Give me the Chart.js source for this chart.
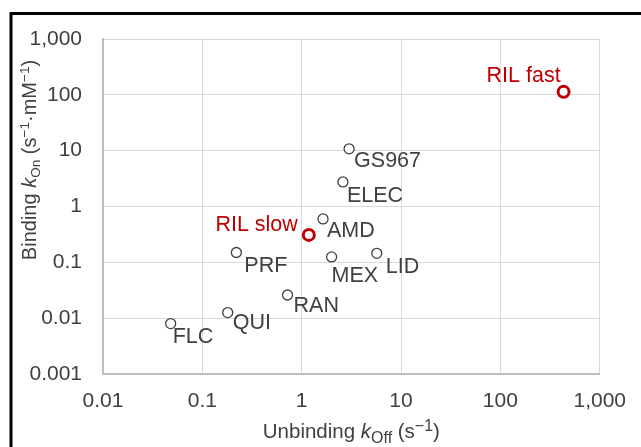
<!DOCTYPE html>
<html>
<head>
<meta charset="utf-8">
<script src="https://cdn.jsdelivr.net/npm/chart.js@4"></script>
<style>
  html, body { margin: 0; padding: 0; background: #fff; }
  #wrap { position: relative; width: 641px; height: 447px; }
</style>
</head>
<body>
<div id="wrap"><canvas id="chart"></canvas></div>
<script>
// data
const drugNames = ['GS967', 'ELEC', 'AMD', 'MEX', 'LID', 'PRF', 'RAN', 'QUI', 'FLC'];
const drugOff = [3.0, 2.6, 1.64, 2.0, 5.7, 0.22, 0.72, 0.18, 0.048];
const drugOn = [10.8, 2.75, 0.6, 0.125, 0.145, 0.15, 0.026, 0.0126, 0.008];
const rilNames = ['RIL slow', 'RIL fast'];
const rilOff = [1.18, 433];
const rilOn = [0.31, 113];
const tickValues = [0.001, 0.01, 0.1, 1, 10, 100, 1000];
const tickLabels = ['0.001', '0.01', '0.1', '1', '10', '100', '1,000'];

const FONT = "'Liberation Sans', Arial, sans-serif";
const TEXT = '#404040';
const RED = '#c00000';

// where each name sits relative to its marker
const labelPlacement = {
    'GS967': [5, 12, 'left'],
    'ELEC': [4, 14, 'left'],
    'AMD': [4, 12, 'left'],
    'MEX': [0, 19, 'left'],
    'LID': [9, 14, 'left'],
    'PRF': [8, 14, 'left'],
    'RAN': [6, 11, 'left'],
    'QUI': [5, 11, 'left'],
    'FLC': [2, 14, 'left'],
    'RIL slow': [-11, -10, 'right'],
    'RIL fast': [-3, -16, 'right']
};

const toPoints = (xs, ys) => xs.map((x, i) => ({ x, y: ys[i] }));

const pointLabels = {
    id: 'pointLabels',
    afterDatasetsDraw(chart) {
        const ctx = chart.ctx;
        ctx.save();
        ctx.font = `21.5px ${FONT}`;
        ctx.textBaseline = 'middle';
        chart.data.datasets.forEach((ds, di) => {
            const meta = chart.getDatasetMeta(di);
            ctx.fillStyle = ds.labelColor;
            meta.data.forEach((pt, i) => {
                const name = ds.names[i];
                const [dx, dy, align] = labelPlacement[name];
                ctx.textAlign = align;
                ctx.fillText(name, pt.x + dx, pt.y + dy);
            });
        });
        ctx.restore();
    }
};

function richWidth(ctx, parts, size, sub) {
    let w = 0;
    parts.forEach(p => {
        const s = p.shift ? size * sub : size;
        ctx.font = `${p.italic ? 'italic ' : ''}${s}px ${FONT}`;
        w += ctx.measureText(p.t).width;
    });
    return w;
}

function drawRich(ctx, parts, size, sub, x, y) {
    let cx = x;
    parts.forEach(p => {
        const s = p.shift ? size * sub : size;
        ctx.font = `${p.italic ? 'italic ' : ''}${s}px ${FONT}`;
        let dy = 0;
        if (p.shift === 'sub') dy = size * 0.22;
        if (p.shift === 'sup') dy = -size * 0.36;
        ctx.fillText(p.t, cx, y + dy);
        cx += ctx.measureText(p.t).width;
    });
}

const axisTitles = {
    id: 'axisTitles',
    afterDraw(chart) {
        const ctx = chart.ctx;
        ctx.save();
        ctx.fillStyle = TEXT;
        ctx.textAlign = 'left';
        ctx.textBaseline = 'alphabetic';

        const xParts = [
            { t: 'Unbinding ' }, { t: 'k', italic: true }, { t: 'Off', shift: 'sub' },
            { t: ' (s' }, { t: '\u22121', shift: 'sup' }, { t: ')' }
        ];
        const area = chart.chartArea;
        const xw = richWidth(ctx, xParts, 20.5, 0.78);
        drawRich(ctx, xParts, 20.5, 0.78, (area.left + area.right) / 2 - xw / 2, 438);

        const yParts = [
            { t: 'Binding ' }, { t: 'k', italic: true }, { t: 'On', shift: 'sub' },
            { t: ' (s' }, { t: '\u22121', shift: 'sup' }, { t: '\u00b7mM' },
            { t: '\u22121', shift: 'sup' }, { t: ')' }
        ];
        const yw = richWidth(ctx, yParts, 20, 0.68);
        ctx.translate(36, 160);
        ctx.rotate(-Math.PI / 2);
        drawRich(ctx, yParts, 20, 0.68, -yw / 2, 0);
        ctx.restore();
    }
};

const frame = {
    id: 'frame',
    afterDraw(chart) {
        const ctx = chart.ctx;
        ctx.save();
        ctx.strokeStyle = '#000';
        ctx.lineWidth = 3;
        ctx.strokeRect(11, 13.5, 800, 600);
        ctx.restore();
    }
};

const logAxis = (fit) => ({
    type: 'logarithmic',
    min: 0.001,
    max: 1000,
    afterBuildTicks: scale => {
        scale.ticks = tickValues.filter(v => v >= scale.min && v <= scale.max).map(v => ({ value: v }));
    },
    afterFit: fit,
    grid: { color: '#d9d9d9', lineWidth: 1, drawTicks: false },
    border: { color: '#bfbfbf', width: 2 },
    ticks: {
        color: TEXT,
        font: { family: FONT, size: 21 },
        autoSkip: false,
        maxRotation: 0,
        callback: value => tickLabels[tickValues.indexOf(value)]
    }
});

const xAxis = logAxis(scale => { scale.height = 73; });
xAxis.min = 0.01;
xAxis.ticks.padding = 15;
const yAxis = logAxis(scale => { scale.width = 103; });
yAxis.ticks.padding = 21;

new Chart(document.getElementById('chart'), {
    type: 'scatter',
    data: {
        datasets: [
            {
                data: toPoints(drugOff, drugOn),
                names: drugNames,
                labelColor: TEXT,
                pointRadius: 5,
                pointBorderWidth: 1.3,
                pointBorderColor: '#404040',
                pointBackgroundColor: '#fff'
            },
            {
                data: toPoints(rilOff, rilOn),
                names: rilNames,
                labelColor: RED,
                pointRadius: 5.5,
                pointBorderWidth: 3,
                pointBorderColor: RED,
                pointBackgroundColor: '#fff'
            }
        ]
    },
    options: {
        responsive: true,
        maintainAspectRatio: false,
        animation: false,
        layout: { padding: { top: 39, right: 39, left: 0, bottom: 0 } },
        plugins: {
            legend: { display: false },
            tooltip: { enabled: false }
        },
        scales: { x: xAxis, y: yAxis }
    },
    plugins: [pointLabels, axisTitles, frame]
});
</script>
</body>
</html>
